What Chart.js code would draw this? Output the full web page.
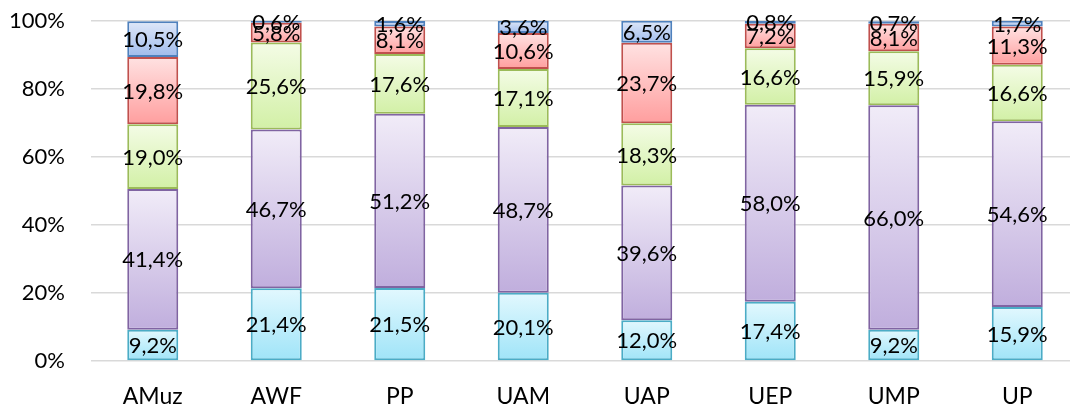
<!DOCTYPE html>
<html>
<head>
<meta charset="utf-8">
<script src="https://cdn.jsdelivr.net/npm/chart.js@4"></script>
<style>
  html, body { margin: 0; padding: 0; background: #fff; overflow: hidden; }
  #wrap { width: 1080px; height: 405px; }
</style>
</head>
<body>
<div id="wrap"><canvas id="chart"></canvas></div>
<script>
const categories = ['AMuz', 'AWF', 'PP', 'UAM', 'UAP', 'UEP', 'UMP', 'UP'];
const series1 = [9.2, 21.4, 21.5, 20.1, 12.0, 17.4, 9.2, 15.9];
const series2 = [41.4, 46.7, 51.2, 48.7, 39.6, 58.0, 66.0, 54.6];
const series3 = [19.0, 25.6, 17.6, 17.1, 18.3, 16.6, 15.9, 16.6];
const series4 = [19.8, 5.8, 8.1, 10.6, 23.7, 7.2, 8.1, 11.3];
const series5 = [10.5, 0.6, 1.6, 3.6, 6.5, 0.8, 0.7, 1.7];
const yTicks = [0, 20, 40, 60, 80, 100];

const FONT = 'Lato';

// kolory: [góra gradientu, dół gradientu, obramowanie]
const palette = [
    ['#e2f8fe', '#9fe4f8', '#4bacc6'],
    ['#f1ecf8', '#c0aedd', '#8064a2'],
    ['#f4fce6', '#d2f0a6', '#9bbb59'],
    ['#ffe2e2', '#ff9e9e', '#c0504d'],
    ['#dfe8f9', '#9fbbec', '#4f81bd']
];

function segmentFill(c) {
    const cols = palette[c.datasetIndex];
    if (c.type !== 'data') return cols[1];
    const chart = c.chart;
    const y = chart.scales.y;
    if (!y || !chart.chartArea) return cols[1];
    let base = 0;
    for (let k = 0; k < c.datasetIndex; k++) base += chart.data.datasets[k].data[c.dataIndex];
    const top = y.getPixelForValue(base + c.raw);
    const bottom = y.getPixelForValue(base);
    if (Math.abs(bottom - top) < 0.5) return cols[1];
    const g = chart.ctx.createLinearGradient(0, top, 0, bottom);
    g.addColorStop(0, cols[0]);
    g.addColorStop(1, cols[1]);
    return g;
}

const names = ['Seria 1', 'Seria 2', 'Seria 3', 'Seria 4', 'Seria 5'];
const allSeries = [series1, series2, series3, series4, series5];

const valueLabels = {
    id: 'valueLabels',
    afterDatasetsDraw(chart) {
        const ctx = chart.ctx;
        ctx.save();
        ctx.font = '22px ' + FONT;
        ctx.fillStyle = '#000';
        ctx.textAlign = 'center';
        ctx.textBaseline = 'middle';
        chart.data.datasets.forEach((ds, i) => {
            chart.getDatasetMeta(i).data.forEach((el, j) => {
                const p = el.getProps(['x', 'y', 'base'], true);
                const txt = ds.data[j].toFixed(1).replace('.', ',') + '%';
                ctx.fillText(txt, p.x, (p.y + p.base) / 2 + 1);
            });
        });
        ctx.restore();
    }
};

new Chart(document.getElementById('chart'), {
    type: 'bar',
    data: {
        labels: categories,
        datasets: allSeries.map((d, i) => ({
            label: names[i],
            data: d,
            backgroundColor: segmentFill,
            borderColor: palette[i][2],
            borderWidth: 2,
            borderSkipped: false,
            categoryPercentage: 1,
            barPercentage: 0.413
        }))
    },
    options: {
        responsive: true,
        maintainAspectRatio: false,
        animation: false,
        layout: { padding: { top: 21, right: 1, left: 0, bottom: 0 } },
        plugins: {
            legend: { display: false },
            tooltip: { enabled: false }
        },
        scales: {
            x: {
                stacked: true,
                grid: { display: false },
                border: { display: false },
                ticks: { color: '#000', font: { family: FONT, size: 23 }, padding: 14 },
                afterFit: s => { s.height = 44; }
            },
            y: {
                stacked: true,
                min: 0,
                max: 100,
                afterBuildTicks: s => { s.ticks = yTicks.map(v => ({ value: v })); },
                grid: { color: '#d9d9d9', lineWidth: 1.5, drawTicks: false },
                border: { display: false },
                ticks: {
                    color: '#000',
                    font: { family: FONT, size: 22 },
                    padding: 26,
                    callback: v => v + '%'
                },
                afterFit: s => {
                    s.width = 91;
                    s.paddingTop = 0;
                    s.paddingBottom = 0;
                }
            }
        }
    },
    plugins: [valueLabels]
});
</script>
</body>
</html>
